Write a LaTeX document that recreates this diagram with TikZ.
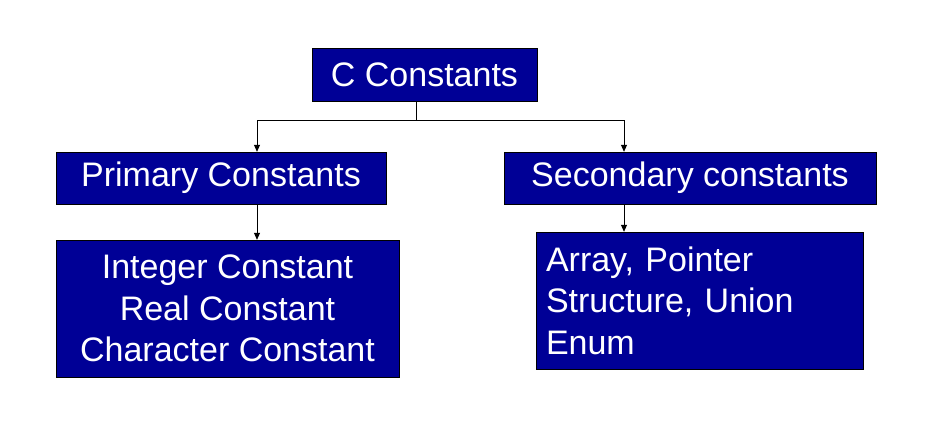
\documentclass[tikz,border=0pt]{standalone}
\usepackage{fontspec}
\setmainfont{Liberation Sans}
\usetikzlibrary{arrows.meta}
\definecolor{boxblue}{RGB}{0,0,150}

\begin{document}
\begin{tikzpicture}[x=1pt,y=-1pt,
  blk/.style={draw=black, fill=boxblue, text=white, inner sep=0pt,
    font=\fontsize{34}{41.5}\selectfont},
  arr/.style={-{Triangle[length=7pt,width=6pt]}, line width=0.8pt}]
\useasboundingbox[fill=white] (0,0) rectangle (944,446);
\node[blk, minimum width=225pt, minimum height=53pt] (cc) at (424.5,74.5) {C Constants};
\node[blk, minimum width=330pt, minimum height=52pt] (prim) at (221,178) {Primary Constants};
\node[blk, minimum width=372pt, minimum height=52pt] (sec) at (690,178) {Secondary constants};
\node[blk, minimum width=343pt, minimum height=137pt, align=center] (intg) at (227.5,308.5)
  {Integer Constant\\Real Constant\\Character Constant};
\node[blk, minimum width=327pt, minimum height=137pt, text width=307pt, align=left] (arr) at (699.5,300.5)
  {Array, Pointer\\Structure, Union\\Enum};
\coordinate (j) at (416,120);
\coordinate (jl) at (257,120);
\coordinate (jr) at (624,120);
\draw[line width=0.8pt] (cc.south -| j) -- (j);
\draw[arr] (j) -| (prim.north -| jl);
\draw[arr] (j) -| (sec.north -| jr);
\draw[arr] (prim.south -| jl) -- (intg.north -| jl);
\draw[arr] (sec.south -| jr) -- (arr.north -| jr);
\end{tikzpicture}
\end{document}
